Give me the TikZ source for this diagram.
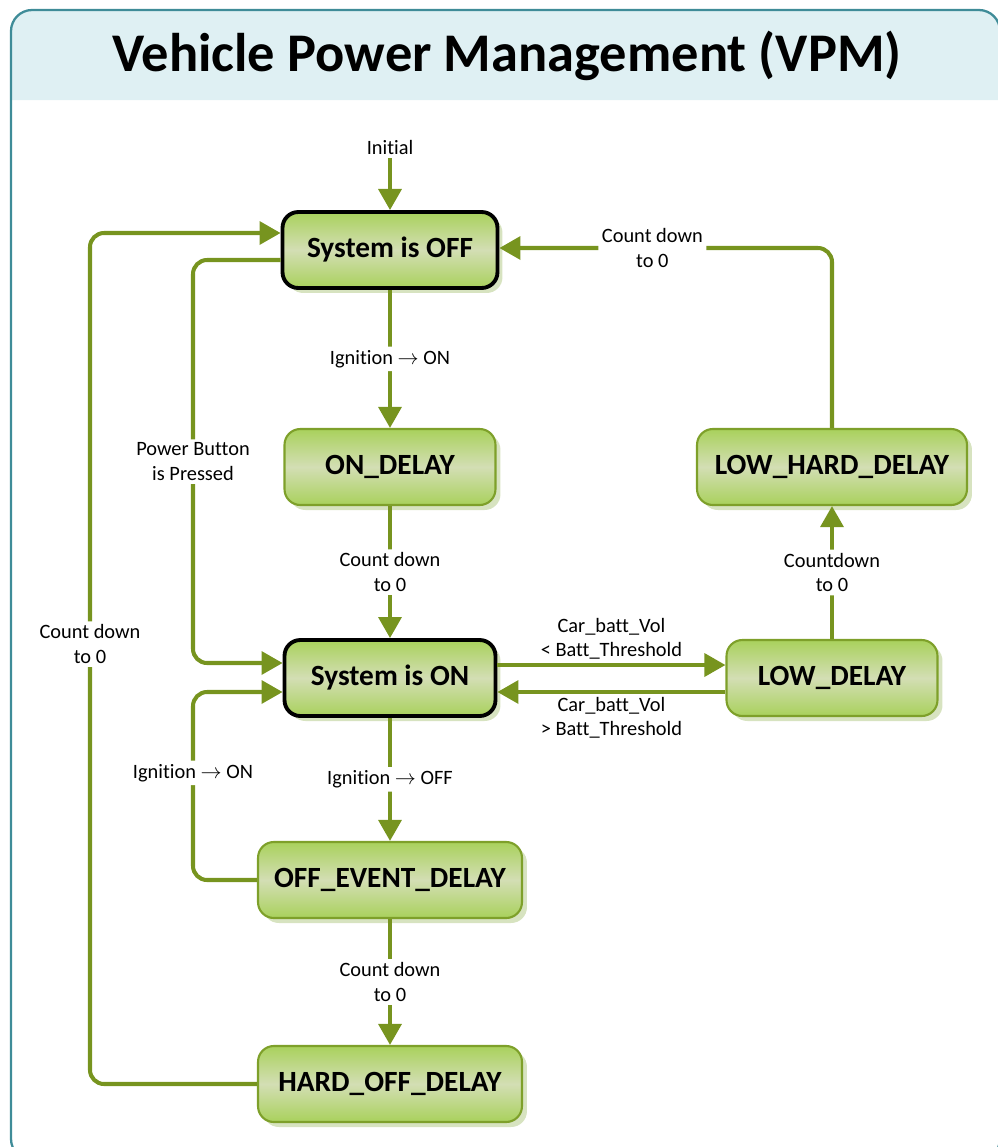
\documentclass[tikz,border=0pt]{standalone}
\usepackage{fontspec}
\setmainfont{Carlito}[Ligatures=NoCommon]
\usetikzlibrary{arrows.meta,positioning,shadows}
\definecolor{vpmgreen}{HTML}{77941F}
\definecolor{nodeedge}{HTML}{7EA02A}
\definecolor{nodefill}{HTML}{A9D15C}
\definecolor{nodelight}{HTML}{D3DEB4}
\definecolor{nodeshadow}{HTML}{D7E3C0}
\definecolor{frameteal}{HTML}{3F8C98}
\definecolor{titleblue}{HTML}{DFF0F3}

\begin{document}
\begin{tikzpicture}[
        x=0.02cm, y={(0cm,-0.02cm)},
        state/.style={draw=nodeedge, line width=1.2pt, rounded corners=9pt, minimum width=4.22cm, minimum height=1.52cm, top color=nodefill, bottom color=nodefill, middle color=nodelight, font=\fontsize{16.7}{20}\selectfont\bfseries, drop shadow={shadow xshift=0.1cm, shadow yshift=-0.1cm, fill=nodeshadow, opacity=1}},
        mainstate/.style={state, draw=black, line width=2.2pt},
        arrow/.style={-{Triangle[length=12pt,width=13pt]}, line width=2.3pt, draw=vpmgreen, rounded corners=8pt},
        lbl/.style={font=\fontsize{11.6}{13.8}\selectfont, align=center, fill=white, inner sep=2pt}
    ]
    \useasboundingbox (0,0) rectangle (998,1147);
    % frame and title band
    \begin{scope}
        \clip (0,0) rectangle (998,1147);
        \fill[titleblue] (11,100) [rounded corners=12pt]-- (11,10) -- (1000,10) [sharp corners]-- (1000,100) -- cycle;
        \draw[frameteal, line width=1.3pt, rounded corners=12pt] (11,10) rectangle (1000,1160);
    \end{scope}
    \node[font=\fontsize{31}{36}\selectfont\bfseries] (title) at (507,56) {Vehicle Power Management (VPM)};

    % states
    \node[lbl, fill=none] (init) at (390,147) {Initial};
    \node[mainstate, minimum width=4.3cm] (sysoff) at (390,250) {System is OFF};
    \node[state] (ondelay) at (390,467) {ON\_DELAY};
    \node[mainstate] (syson) at (390,678) {System is ON};
    \node[state, minimum width=5.28cm] (offevent) at (390,880) {OFF\_EVENT\_DELAY};
    \node[state, minimum width=5.28cm] (hardoff) at (390,1084) {HARD\_OFF\_DELAY};
    \node[state, minimum width=5.4cm] (lowhard) at (832,467) {LOW\_HARD\_DELAY};
    \node[state] (lowdelay) at (832,678) {LOW\_DELAY};

    % transitions
    \draw[arrow] (init) -- (sysoff);
    \draw[arrow] (sysoff) -- node[lbl] {Ignition $\rightarrow$ ON} (ondelay);
    \draw[arrow] (ondelay) -- node[lbl] {Count down\\to 0} (syson);
    \draw[arrow] (syson) -- node[lbl] {Ignition $\rightarrow$ OFF} (offevent);
    \draw[arrow] (offevent) -- node[lbl] {Count down\\to 0} (hardoff);
    \draw[arrow] (hardoff.west) -- (90,1084) -- node[lbl, pos=0.517] {Count down\\to 0} (90,233) -- ([yshift=0.34cm]sysoff.west);
    \draw[arrow] ([yshift=-0.2cm]sysoff.west) -- (193,260) -- node[lbl] {Power Button\\is Pressed} (193,663) -- ([yshift=0.3cm]syson.west);
    \draw[arrow] (offevent.west) -- (193,880) -- node[lbl, pos=0.57] {Ignition $\rightarrow$ ON} (193,692) -- ([yshift=-0.28cm]syson.west);
    \draw[arrow] ([yshift=0.26cm]syson.east) -- node[lbl, above, fill=none] {Car\_batt\_Vol\\< Batt\_Threshold} ([yshift=0.26cm]lowdelay.west);
    \draw[arrow] ([yshift=-0.28cm]lowdelay.west) -- node[lbl, below, fill=none] {Car\_batt\_Vol\\> Batt\_Threshold} ([yshift=-0.28cm]syson.east);
    \draw[arrow] (lowdelay) -- node[lbl] {Countdown\\to 0} (lowhard);
    \draw[arrow] (lowhard.north) |- node[lbl, pos=0.77] {Count down\\to 0} ([yshift=0.04cm]sysoff.east);
\end{tikzpicture}
\end{document}
